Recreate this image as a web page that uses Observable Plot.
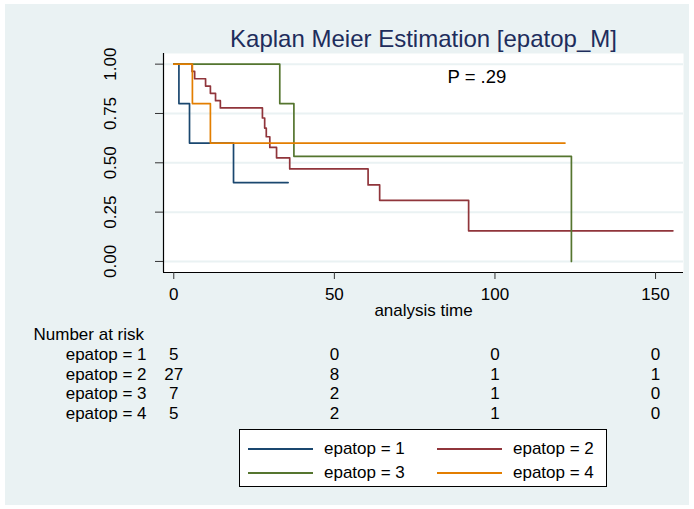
<!DOCTYPE html>
<html>
<head>
<meta charset="utf-8">
<script src="https://cdn.jsdelivr.net/npm/d3@7"></script>
<script src="https://cdn.jsdelivr.net/npm/@observablehq/plot@0.6"></script>
<style>
  html, body { margin: 0; padding: 0; background: #ffffff; }
  #wrap { position: relative; width: 694px; height: 509px; overflow: hidden; font-family: "Liberation Sans", Arial, sans-serif; }
  #bg { position: absolute; left: 5px; top: 4px; width: 684px; height: 501px; background: #EAF2F3; }
  #chart { position: absolute; left: 0; top: 0; }
  #legend { position: absolute; left: 239px; top: 429px; width: 366px; height: 56px; background: #fff; border: 1px solid #000; }
  .item { position: absolute; height: 20px; font-size: 17px; line-height: 20px; color: #000; white-space: nowrap; }
  .item .sw { position: absolute; left: 0; top: 9px; width: 65px; height: 0; border-top: 2px solid; }
  .item .lb { position: absolute; left: 76px; top: 0; }
</style>
</head>
<body>
<div id="wrap">
  <div id="bg"></div>
  <div id="chart"></div>
  <div id="legend"></div>
</div>
<script>
// ---- data ----
const groups = ["epatop = 1", "epatop = 2", "epatop = 3", "epatop = 4"];
const colors = ["#1A476F", "#90353B", "#55752F", "#E37E00"];

const time1 = [0, 1.6, 4.9, 18.6, 35.6];
const surv1 = [1, 0.8, 0.6, 0.4, 0.4];
const time2 = [0, 5.7, 6.5, 9.9, 11.4, 13.0, 14.5, 27.6, 28.3, 28.8, 29.9, 32.0, 36.1, 60.5, 64.1, 91.8, 155.4];
const surv2 = [1, 0.963, 0.926, 0.889, 0.852, 0.815, 0.778, 0.727, 0.676, 0.632, 0.578, 0.525, 0.469, 0.388, 0.31, 0.155, 0.155];
const time3 = [0, 33.0, 37.4, 123.8];
const surv3 = [1, 0.8, 0.533, 0];
const time4 = [0, 5.8, 11.4, 121.8];
const surv4 = [1, 0.8, 0.6, 0.6];

const xTicks = [0, 50, 100, 150];
const yTicks = [0, 0.25, 0.5, 0.75, 1];
const yTickLabels = ["0.00", "0.25", "0.50", "0.75", "1.00"];
const xDomain = [-3.2, 158.7];
const yDomain = [-0.056, 1.054];

const riskTimes = [0, 50, 100, 150];
const risk1 = [5, 0, 0, 0];
const risk2 = [27, 8, 1, 1];
const risk3 = [7, 2, 1, 0];
const risk4 = [5, 2, 1, 0];

const titleText = "Kaplan Meier Estimation [epatop_M]";
const pText = "P = .29";
const xLabel = "analysis time";
const riskTitle = "Number at risk";

// ---- build tables ----
const times = [time1, time2, time3, time4];
const survs = [surv1, surv2, surv3, surv4];
const km = [];
groups.forEach((g, i) => times[i].forEach((t, j) => km.push({group: g, t, s: survs[i][j]})));
const risks = [risk1, risk2, risk3, risk4];
const rowBase = [359.5, 379, 398.5, 418]; // baselines (px) below
const plotBottom = 272;

const font = "Liberation Sans, Arial, sans-serif";
const marks = [
  Plot.frame({fill: "white"}),
  Plot.gridY(yTicks, {stroke: "#EAF2F3", strokeOpacity: 1, strokeWidth: 2}),
  Plot.line(km, {x: "t", y: "s", z: "group", stroke: "group", curve: "step-after", strokeWidth: 1.7}),
  Plot.ruleX([xDomain[0]], {stroke: "#000", strokeWidth: 1.2}),
  Plot.ruleY([yDomain[0]], {stroke: "#000", strokeWidth: 1.2}),
  Plot.axisY(yTicks, {tickSize: 8, tickFormat: () => "", stroke: "#333", label: null}),
  Plot.text(yTicks, {y: d => d, text: (d, i) => yTickLabels[i], frameAnchor: "left", dx: -48, rotate: -90, lineAnchor: "bottom", textAnchor: "middle", fontSize: 17, fill: "#000"}),
  Plot.axisX(xTicks, {tickSize: 7, tickPadding: 8, fontSize: 17, stroke: "#333", fill: "#000", label: null}),
  Plot.text([xLabel], {frameAnchor: "bottom", dy: 43, lineAnchor: "bottom", fontSize: 17, fill: "#000"}),
  Plot.text([titleText], {frameAnchor: "top", dy: -6.5, lineAnchor: "bottom", fontSize: 24, fill: "#1E2D5C"}),
  Plot.text([pText], {frameAnchor: "top-left", dx: 284, dy: 29, lineAnchor: "bottom", textAnchor: "start", fontSize: 18.5, fill: "#000"}),
  Plot.text([riskTitle], {frameAnchor: "bottom-left", dx: -130, dy: 339 - plotBottom, lineAnchor: "bottom", textAnchor: "start", fontSize: 17, fill: "#000"})
];
groups.forEach((g, i) => {
  const rows = riskTimes.map((t, j) => ({t, n: risks[i][j]}));
  marks.push(Plot.text([g], {frameAnchor: "bottom-left", dx: -17, dy: rowBase[i] - plotBottom, lineAnchor: "bottom", textAnchor: "end", fontSize: 17, fill: "#000"}));
  marks.push(Plot.text(rows, {x: "t", text: "n", frameAnchor: "bottom", dy: rowBase[i] - plotBottom, lineAnchor: "bottom", textAnchor: "middle", fontSize: 17, fill: "#000"}));
});

const chart = Plot.plot({
  width: 694,
  height: 509,
  marginLeft: 163,
  marginRight: 11,
  marginTop: 53,
  marginBottom: 509 - plotBottom,
  x: {domain: xDomain, axis: null},
  y: {domain: yDomain, axis: null},
  color: {domain: groups, range: colors},
  style: {background: "transparent", fontFamily: font, color: "#000", overflow: "visible"},
  marks
});
document.getElementById("chart").appendChild(chart);

// ---- legend ----
const legend = document.getElementById("legend");
const pos = [[8, 9], [197, 9], [8, 33], [197, 33]];
groups.forEach((g, i) => {
  const it = document.createElement("div");
  it.className = "item";
  it.style.left = pos[i][0] + "px";
  it.style.top = pos[i][1] + "px";
  const sw = document.createElement("div");
  sw.className = "sw";
  sw.style.borderTopColor = colors[i];
  const lb = document.createElement("div");
  lb.className = "lb";
  lb.textContent = g;
  it.appendChild(sw);
  it.appendChild(lb);
  legend.appendChild(it);
});
</script>
</body>
</html>
